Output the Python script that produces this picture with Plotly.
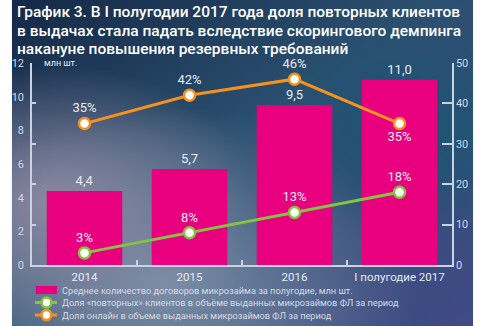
import base64
import plotly.graph_objects as go

# ---------------- data ----------------
categories = ["2014", "2015", "2016", "I полугодие 2017"]
contracts_mln = [4.4, 5.7, 9.5, 11.0]
contracts_labels = ["4,4", "5,7", "9,5", "11,0"]
repeat_share = [3, 8, 13, 18]
online_share = [35, 42, 46, 35]
left_ticks = [0, 2, 4, 6, 8, 10, 12]
right_ticks = [0, 10, 20, 30, 40, 50]
title_lines = [
    "График 3. В I полугодии 2017 года доля повторных клиентов",
    "в выдачах стала падать вследствие скорингового демпинга",
    "накануне повышения резервных требований",
]
legend_names = [
    "Среднее количество договоров микрозайма за полугодие, млн шт.",
    "Доля «повторных» клиентов в объёме выданных микрозаймов ФЛ за период",
    "Доля онлайн в объеме выданных микрозаймов ФЛ за период",
]
unit_label = "млн шт."

# ---------------- style ----------------
W, H = 480, 326
ML, MR, MT, MB = 21, 22, 63, 61
PW, PH = W - ML - MR, H - MT - MB
PINK = "#e8007f"
GREEN = "#86c341"
ORANGE = "#f5921e"
AXC = "#c9d2de"
TXT = "#e6ebf2"
FONT = "Roboto"


def px_x(x):
    return (x - ML) / PW


def px_y(y):
    return (H - MB - y) / PH


svg = f'''<svg xmlns="http://www.w3.org/2000/svg" width="{W}" height="{H}" viewBox="0 0 {W} {H}" preserveAspectRatio="none">
<defs>
<linearGradient id="g0" x1="0" y1="0" x2="1" y2="1">
<stop offset="0" stop-color="#152846"/>
<stop offset="0.45" stop-color="#2a4f6f"/>
<stop offset="1" stop-color="#414a86"/>
</linearGradient>
<radialGradient id="g1" cx="0.1" cy="0.62" r="0.42">
<stop offset="0" stop-color="#8d89a3" stop-opacity="1"/>
<stop offset="1" stop-color="#8d89a3" stop-opacity="0"/>
</radialGradient>
<radialGradient id="g2" cx="0.33" cy="0.88" r="0.55">
<stop offset="0" stop-color="#8395ab" stop-opacity="0.9"/>
<stop offset="1" stop-color="#8395ab" stop-opacity="0"/>
</radialGradient>
<radialGradient id="g3" cx="0.88" cy="0.4" r="0.33">
<stop offset="0" stop-color="#1b5573" stop-opacity="1"/>
<stop offset="1" stop-color="#1b5573" stop-opacity="0"/>
</radialGradient>
</defs>
<rect width="{W}" height="{H}" fill="url(#g0)"/>
<rect width="{W}" height="{H}" fill="url(#g2)"/>
<rect width="{W}" height="{H}" fill="url(#g1)"/>
<rect width="{W}" height="{H}" fill="url(#g3)"/>
</svg>'''
bg_src = "data:image/svg+xml;base64," + base64.b64encode(svg.encode()).decode()

fig = go.Figure()

fig.add_trace(go.Bar(
    x=categories, y=contracts_mln, text=contracts_labels,
    textposition="outside", cliponaxis=False,
    textfont=dict(family=FONT, size=13, color=TXT),
    marker=dict(color=PINK, line=dict(width=0)), width=0.72,
    yaxis="y", showlegend=False,
))

fig.add_trace(go.Scatter(
    x=categories, y=online_share, yaxis="y2", mode="lines+markers+text",
    text=[f"{v}%" for v in online_share],
    textposition=["top center", "top center", "top center", "bottom center"],
    textfont=dict(family=FONT, size=13, color=TXT),
    line=dict(color=ORANGE, width=3),
    marker=dict(size=11, color="white", line=dict(color=ORANGE, width=2.5)),
    cliponaxis=False, showlegend=False,
))

fig.add_trace(go.Scatter(
    x=categories, y=repeat_share, yaxis="y2", mode="lines+markers+text",
    text=[f"{v}%" for v in repeat_share],
    textposition="top center",
    textfont=dict(family=FONT, size=13, color=TXT),
    line=dict(color=GREEN, width=3),
    marker=dict(size=11, color="white", line=dict(color=GREEN, width=2.5)),
    cliponaxis=False, showlegend=False,
))

# invisible trace so that the left-side 0–50 tick marks are drawn
fig.add_trace(go.Scatter(x=[categories[0]], y=[0], yaxis="y3", mode="markers",
                         marker=dict(opacity=0), showlegend=False, hoverinfo="skip"))

annotations = []
for i, line in enumerate(title_lines):
    annotations.append(dict(
        text=line, xref="paper", yref="paper", x=px_x(3), y=px_y(1 + i * 18.5),
        xanchor="left", yanchor="top", showarrow=False,
        font=dict(family=FONT, size=15.5, color="white", weight=500),
    ))
annotations.append(dict(
    text=unit_label, xref="paper", yref="paper", x=px_x(31), y=px_y(63),
    xanchor="left", yanchor="middle", showarrow=False,
    font=dict(family=FONT, size=9, color=TXT),
))

shapes = []
# legend (manual, compact)
leg_y = [290, 302.5, 315]
shapes.append(dict(type="rect", xref="paper", yref="paper",
                   x0=px_x(25), x1=px_x(47), y0=px_y(286), y1=px_y(294),
                   fillcolor=PINK, line=dict(width=0), layer="above"))
for yy, col in zip(leg_y[1:], [GREEN, ORANGE]):
    shapes.append(dict(type="line", xref="paper", yref="paper",
                       x0=px_x(24), x1=px_x(47), y0=px_y(yy), y1=px_y(yy),
                       line=dict(color=col, width=3), layer="above"))
    shapes.append(dict(type="circle", xref="paper", yref="paper",
                       x0=px_x(31), x1=px_x(41), y0=px_y(yy - 5), y1=px_y(yy + 5),
                       fillcolor="white", line=dict(color=col, width=2.5), layer="above"))
for yy, name in zip(leg_y, legend_names):
    annotations.append(dict(
        text=name, xref="paper", yref="paper", x=px_x(50), y=px_y(yy),
        xanchor="left", yanchor="middle", showarrow=False,
        font=dict(family=FONT, size=9.2, color="#d5dbe5"),
    ))

fig.update_layout(
    width=W, height=H,
    margin=dict(l=ML, r=MR, t=MT, b=MB, pad=0),
    paper_bgcolor="rgba(0,0,0,0)", plot_bgcolor="rgba(0,0,0,0)",
    font=dict(family=FONT, color=TXT),
    images=[dict(source=bg_src, xref="paper", yref="paper",
                 x=-ML / PW, y=1 + MT / PH, sizex=W / PW, sizey=H / PH,
                 xanchor="left", yanchor="top", sizing="stretch", layer="below")],
    xaxis=dict(type="category", range=[-0.5, 3.5], showline=True, linecolor=AXC, linewidth=1.5,
               ticks="inside", tickson="boundaries", ticklen=5, tickcolor=AXC, tickwidth=1.5,
               showgrid=False, tickfont=dict(family=FONT, size=11.5, color=TXT)),
    yaxis=dict(range=[0, 12], tickvals=left_ticks, ticks="", showline=True, linecolor=AXC,
               linewidth=1.5, showgrid=False, zeroline=False,
               tickfont=dict(family=FONT, size=11, color="#d0d8e4"), ticklabelstandoff=4),
    yaxis2=dict(range=[0, 50], tickvals=right_ticks, overlaying="y", side="right", anchor="x",
                ticks="inside", ticklen=10, tickcolor=AXC, tickwidth=1.5, showline=True,
                linecolor=AXC, linewidth=1.5, showgrid=False, zeroline=False,
                tickfont=dict(family=FONT, size=11, color="#d0d8e4")),
    yaxis3=dict(range=[0, 50], tickvals=right_ticks, overlaying="y", side="left", anchor="x",
                ticks="inside", ticklen=4, tickcolor=AXC, tickwidth=1.5, showline=False,
                showticklabels=False, showgrid=False, zeroline=False),
    annotations=annotations, shapes=shapes,
)

fig.write_html("out.html")
